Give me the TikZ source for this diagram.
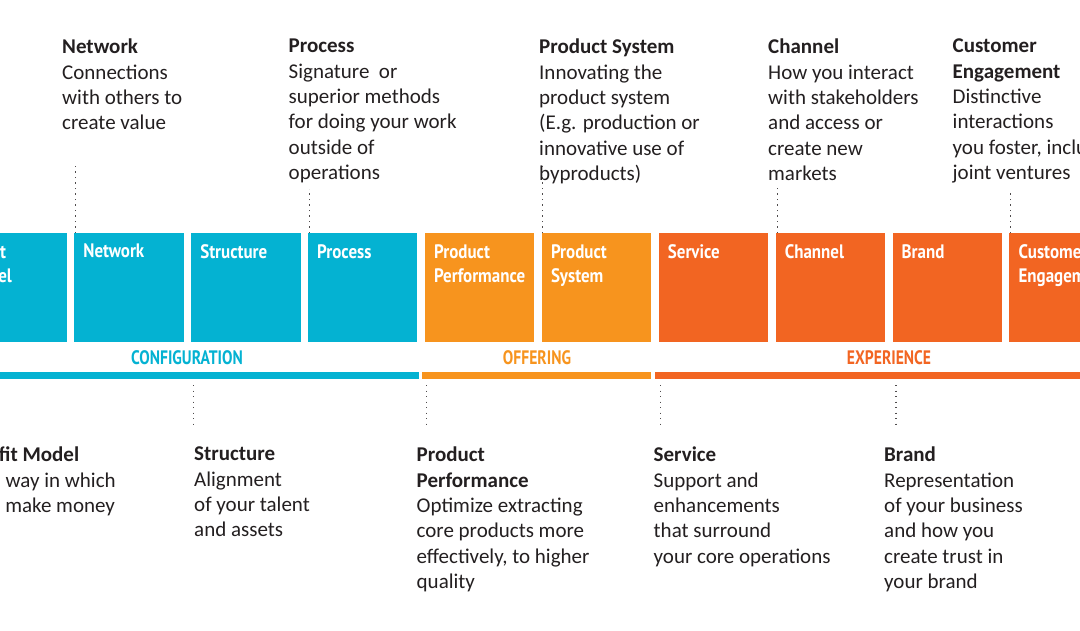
\documentclass[tikz,border=0pt]{standalone}
\usepackage{fontspec}
\setmainfont{Carlito}
\newfontfamily\condfont[FakeStretch=0.87]{PT Sans}
\newfontfamily\groupfont[FakeStretch=0.8]{PT Sans}
\usetikzlibrary{positioning}
\definecolor{ink}{HTML}{231F20}
\definecolor{cfg}{HTML}{04B2D2}
\definecolor{offer}{HTML}{F7941E}
\definecolor{exper}{HTML}{F26522}

\begin{document}
\begin{tikzpicture}[x=1pt,y=-1pt,node distance=7.5pt,
  box/.style={fill=#1,minimum width=109.4pt,minimum height=109pt,inner sep=0pt,outer sep=0pt},
  boxtxt/.style={anchor=north west,inner sep=0pt,xshift=9pt,yshift=-11pt,text=white,align=left,font=\condfont\bfseries\fontsize{19.5}{24}\selectfont},
  group/.style={text=#1,font=\groupfont\bfseries\fontsize{19.5}{19.5}\selectfont},
  desc/.style={anchor=north west,inner sep=0pt,align=left,text=ink,font=\fontsize{21}{25.3}\selectfont},
  leader/.style={draw=ink!80,line width=1.1pt,dash pattern=on 1.1pt off 4.4pt}]
  \useasboundingbox (0,0) rectangle (1080,630);
  \clip (0,0) rectangle (1080,630);
  % the ten boxes
  \node[box=cfg,anchor=north west,label={[boxtxt]north west:{Profit\\Model}}] (bProfit) at (-42.7,233) {};
  \node[box=cfg,right=of bProfit,label={[boxtxt]north west:Network}] (bNetwork) {};
  \node[box=cfg,right=of bNetwork,label={[boxtxt]north west:Structure}] (bStructure) {};
  \node[box=cfg,right=of bStructure,label={[boxtxt]north west:Process}] (bProcess) {};
  \node[box=offer,right=of bProcess,label={[boxtxt]north west:{Product\\Performance}}] (bPerformance) {};
  \node[box=offer,right=of bPerformance,label={[boxtxt]north west:{Product\\System}}] (bSystem) {};
  \node[box=exper,right=of bSystem,label={[boxtxt]north west:Service}] (bService) {};
  \node[box=exper,right=of bService,label={[boxtxt]north west:Channel}] (bChannel) {};
  \node[box=exper,right=of bChannel,label={[boxtxt]north west:Brand}] (bBrand) {};
  \node[box=exper,right=of bBrand,label={[boxtxt]north west:{Customer\\Engagement}}] (bCustomer) {};
  % group bars
  \fill[cfg] (-10,372) rectangle (419,379);
  \fill[offer] (422,372) rectangle (651,379);
  \fill[exper] (655,372) rectangle (1090,379);
  \node[group=cfg] (gConfig) at (187,358) {CONFIGURATION};
  \node[group=offer] (gOffer) at (537,358) {OFFERING};
  \node[group=exper] (gExper) at (889,358) {EXPERIENCE};
  % descriptions, top row
  \node[desc] (tNetwork) at (62,39) {\textbf{Network}\\Connections\\with others to\\create value};
  \node[desc] (tProcess) at (288.5,39) {\textbf{Process}\\Signature\ \ or\\superior methods\\for doing your work\\outside of\\operations};
  \node[desc] (tSystem) at (539,39) {\textbf{Product System}\\Innovating the\\product system\\(E.g. production or\\innovative use of\\byproducts)};
  \node[desc] (tChannel) at (768,39) {\textbf{Channel}\\How you interact\\with stakeholders\\and access or\\create new\\markets};
  \node[desc] (tCustomer) at (952.5,39) {\textbf{Customer}\\\textbf{Engagement}\\Distinctive\\interactions\\you foster, including\\joint ventures};
  % descriptions, bottom row
  \node[desc] (tProfit) at (-31,447) {\textbf{Profit Model}\\The way in which\\you make money};
  \node[desc] (tStructure) at (194,447) {\textbf{Structure}\\Alignment\\of your talent\\and assets};
  \node[desc] (tPerformance) at (416.5,447) {\textbf{Product}\\\textbf{Performance}\\Optimize extracting\\core products more\\effectively, to higher\\quality};
  \node[desc] (tService) at (653.5,447) {\textbf{Service}\\Support and\\enhancements\\that surround\\your core operations};
  \node[desc] (tBrand) at (884,447) {\textbf{Brand}\\Representation\\of your business\\and how you\\create trust in\\your brand};
  % dotted leaders
  \draw[leader] ([xshift=1pt]bNetwork.north west) -- ++(0,-69);
  \draw[leader] ([xshift=1.5pt]bProcess.north west) -- ++(0,-44);
  \draw[leader] ([xshift=0.5pt]bSystem.north west) -- ++(0,-68);
  \draw[leader] ([xshift=1.5pt]bChannel.north west) -- ++(0,-45);
  \draw[leader] ([xshift=1.5pt]bCustomer.north west) -- ++(0,-41);
  \draw[leader] ([xshift=2pt]bStructure.south west) ++(0,43) -- ++(0,43);
  \draw[leader] ([xshift=1.5pt]bPerformance.south west) ++(0,43) -- ++(0,43);
  \draw[leader] ([xshift=2pt]bService.south west) ++(0,43) -- ++(0,43);
  \draw[leader] ([xshift=3.5pt]bBrand.south west) ++(0,43) -- ++(0,43);
\end{tikzpicture}
\end{document}
